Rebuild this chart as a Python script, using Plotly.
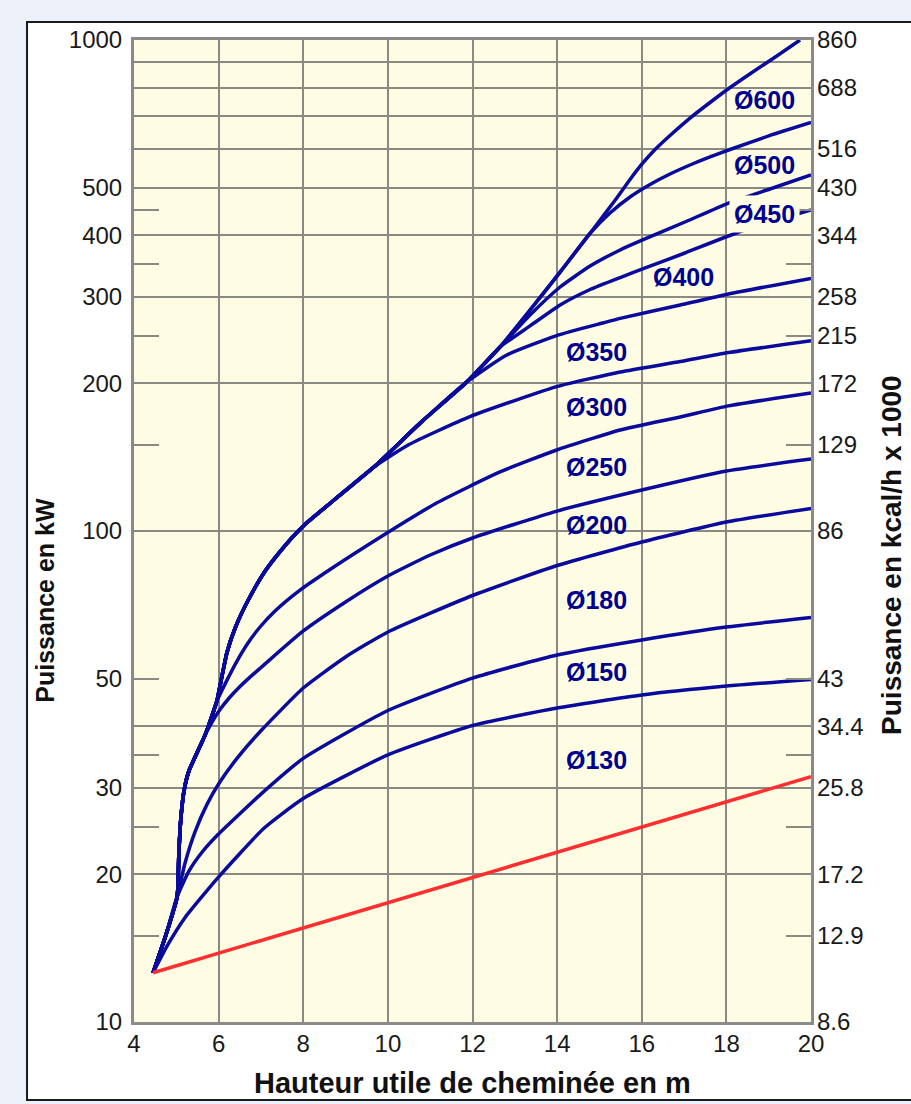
import numpy as np
import plotly.graph_objects as go

# ---------------- axes / ticks ----------------
x_ticks = [4, 6, 8, 10, 12, 14, 16, 18, 20]
kw_label_vals = [10, 20, 30, 50, 100, 200, 300, 400, 500, 1000]
kcal_pos_kw = [10, 15, 20, 30, 40, 50, 100, 150, 200, 250, 300, 400, 500, 600, 800, 1000]
kcal_labels = ['8.6', '12.9', '17.2', '25.8', '34.4', '43', '86', '129', '172', '215',
               '258', '344', '430', '516', '688', '860']
grid_kw = [10, 20, 30, 40, 100, 200, 300, 400, 500, 600, 700, 800, 900, 1000]
short_tick_kw = [15, 25, 35, 50, 150, 250, 350, 450]

# ---------------- data (height m, power kW) ----------------
x_red = [4.45, 20.0]
y_red = [12.6, 31.6]

x_130 = [4.45, 4.8, 5.2, 5.97, 7.07, 8.0, 10.0, 12.0, 14.0, 16.0, 18.0, 20.0]
y_130 = [12.6, 14.37, 16.29, 19.61, 24.80, 28.52, 34.99, 40.17, 43.61, 46.35, 48.33, 49.84]

x_150 = [4.45, 4.75, 5.02, 5.3, 5.607, 5.985, 7.0, 8.0, 10.0, 12.0, 14.0, 16.0, 18.0, 20.0]
y_150 = [12.6, 15.0, 18.0, 20.31, 22.17, 24.09, 29.12, 34.42, 43.1, 50.17, 55.9, 59.98, 63.75, 66.65]

x_180 = [4.45, 4.75, 5.02, 5.205, 5.442, 5.725, 6.033, 6.434, 7.0, 8.0, 9.0, 10.0, 12.0, 14.0,
         16.0, 18.0, 20.0]
y_180 = [12.6, 15.0, 18.0, 21.06, 24.39, 27.75, 30.85, 34.42, 39.18, 47.88, 55.39, 62.28, 73.9,
         85.07, 94.97, 104.3, 111.1]

# shared steep start (common envelope of the larger flues)
x_env0 = [4.45, 4.75, 5.02, 5.06, 5.1, 5.18, 5.3, 5.5, 5.68]
y_env0 = [12.6, 15.0, 18.0, 22.0, 25.5, 29.5, 32.5, 35.5, 38.4]

x_200 = [5.844, 6.033, 6.269, 6.505, 6.742, 7.002, 8.0, 9.0, 10.0, 11.0, 12.0, 14.0, 16.0, 18.0, 20.0]
y_200 = [40.83, 43.3, 45.91, 48.23, 50.4, 52.72, 62.57, 71.7, 80.97, 89.35, 96.76, 109.8, 121.2,
         132.5, 140.1]

x_env1 = [5.82, 5.96]
y_env1 = [41.5, 45.07]

x_250 = [6.198, 6.434, 6.694, 6.978, 7.333, 7.923, 8.632, 9.342, 11.15, 12.65, 13.99, 15.49,
         16.91, 18.05, 20.0]
y_250 = [49.7, 54.35, 59.15, 63.75, 68.72, 75.8, 83.48, 91.5, 114.0, 131.9, 146.2, 160.6,
         170.7, 179.8, 191.0]

x_env2 = [6.06, 6.2, 6.4, 6.7, 7.1, 7.5, 8.0, 8.7, 9.67]
y_env2 = [49.7, 56.7, 63.75, 72.35, 82.88, 91.9, 102.4, 115.1, 135.0]

x_300 = [10.5, 11.94, 13.99, 15.49, 16.91, 18.05, 20.0]
y_300 = [150.0, 171.0, 196.8, 210.8, 221.4, 230.9, 244.0]

x_env3 = [10.8, 11.86]
y_env3 = [167.0, 201.0]

x_350 = [12.8, 13.99, 15.1, 15.49, 16.91, 18.05, 20.0]
y_350 = [228.0, 250.0, 265.5, 271.0, 288.6, 303.9, 327.0]

x_env4 = [12.65]
y_env4 = [237.0]

x_400 = [13.36, 14.07, 14.78, 15.49, 16.02, 17.02, 18.36, 20.0]
y_400 = [261.6, 288.6, 310.4, 328.3, 341.7, 368.3, 408.3, 450.7]

x_450 = [13.36, 14.07, 14.78, 15.49, 16.02, 17.02, 18.04, 19.03, 20.0]
y_450 = [275.4, 314.0, 346.5, 373.6, 391.5, 425.9, 465.0, 497.2, 530.9]

x_env5 = [13.36, 14.07, 14.78]
y_env5 = [281.9, 336.8, 404.0]

x_500 = [15.25, 15.723, 16.196, 16.668, 17.141, 17.614, 18.086, 19.032, 20.0]
y_500 = [444.4, 478.9, 507.8, 533.4, 556.4, 577.9, 598.4, 639.1, 679.2]

x_600 = [15.392, 15.723, 16.007, 16.314, 16.668, 17.141, 17.614, 18.039, 18.606, 19.174, 19.741]
y_600 = [474.5, 519.9, 559.1, 598.4, 639.1, 693.5, 745.9, 794.7, 858.7, 925.5, 1000.0]

e01x = x_env0 + x_env1
e01y = y_env0 + y_env1
e02x = e01x + x_env2
e02y = e01y + y_env2
e03x = e02x + x_env3
e03y = e02y + y_env3
e04x = e03x + x_env4
e04y = e03y + y_env4
e05x = e04x + x_env5
e05y = e04y + y_env5

curves = [
    ('Ø130', x_130, y_130),
    ('Ø150', x_150, y_150),
    ('Ø180', x_180, y_180),
    ('Ø200', x_env0 + x_200, y_env0 + y_200),
    ('Ø250', e01x + x_250, e01y + y_250),
    ('Ø300', e02x + x_300, e02y + y_300),
    ('Ø350', e03x + x_350, e03y + y_350),
    ('Ø400', e04x + x_400, e04y + y_400),
    ('Ø450', e04x + x_450, e04y + y_450),
    ('Ø500', e05x + x_500, e05y + y_500),
    ('Ø600', e05x + x_600, e05y + y_600),
]

# curve label anchor positions (height m, kW)
label_names = ['Ø600', 'Ø500', 'Ø450', 'Ø400', 'Ø350', 'Ø300', 'Ø250', 'Ø200', 'Ø180', 'Ø150', 'Ø130']
label_x = [18.91, 18.91, 18.91, 16.98, 14.94, 14.94, 14.94, 14.94, 14.94, 14.94, 14.94]
label_y = [754.7, 556.0, 442.0, 329.0, 231.5, 178.9, 135.0, 102.8, 72.4, 51.6, 34.2]
label_boxed = ['Ø450']

BLUE = '#0a0a9c'
LABEL_BLUE = '#000090'
RED = '#ff2f2f'
PLOT_BG = '#fefde3'
GRID = '#8a8a84'
FONT = 'Liberation Sans, Arial, sans-serif'

fig = go.Figure()

for name, xs, ys in curves:
    fig.add_trace(go.Scatter(x=xs, y=ys, mode='lines', name=name,
                             line=dict(color=BLUE, width=3.5, shape='spline', smoothing=0.5),
                             showlegend=False, hoverinfo='skip'))
fig.add_trace(go.Scatter(x=x_red, y=y_red, mode='lines', line=dict(color=RED, width=3.5),
                         showlegend=False, hoverinfo='skip'))

annotations = []
for t, lx, ly in zip(label_names, label_x, label_y):
    boxed = t in label_boxed
    annotations.append(dict(x=lx, y=float(np.log10(ly)), xref='x', yref='y', text=t,
                            showarrow=False, xanchor='center', yanchor='middle',
                            font=dict(family=FONT, size=25, color=LABEL_BLUE, weight='bold'),
                            bgcolor=PLOT_BG if boxed else 'rgba(0,0,0,0)',
                            borderpad=4 if boxed else 0))

annotations += [
    dict(text='Puissance en kW', x=-0.1315, y=0.43, xref='paper', yref='paper', textangle=-90,
         showarrow=False, xanchor='center', yanchor='middle',
         font=dict(family=FONT, size=25, color='#111111', weight='bold')),
    dict(text='Puissance en kcal/h x 1000', x=1.1196, y=0.4756, xref='paper', yref='paper',
         textangle=-90, showarrow=False, xanchor='center', yanchor='middle',
         font=dict(family=FONT, size=28, color='#111111', weight='bold')),
    dict(text='Hauteur utile de cheminée en m', x=0.5, y=-0.062, xref='paper', yref='paper',
         showarrow=False, xanchor='center', yanchor='middle',
         font=dict(family=FONT, size=29, color='#111111', weight='bold')),
]

shapes = [
    dict(type='rect', xref='paper', yref='paper', x0=-0.158, x1=1.16, y0=-0.0794, y1=1.0183,
         fillcolor='white', line=dict(color='#1a1a1a', width=2), layer='below'),
    dict(type='rect', xref='paper', yref='paper', x0=0, x1=1, y0=0, y1=1,
         fillcolor=PLOT_BG, line=dict(width=0), layer='below'),
]

ylog = dict(type='log', range=[1, 3], fixedrange=True)

fig.update_layout(
    width=911, height=1104, autosize=False,
    margin=dict(l=134, r=100, t=40, b=82),
    paper_bgcolor='#ecf0f8', plot_bgcolor='rgba(0,0,0,0)',
    font=dict(family=FONT, color='#1a1a1a'),
    xaxis=dict(range=[4, 20], tickvals=x_ticks, ticktext=[str(v) for v in x_ticks],
               showgrid=True, gridcolor=GRID, gridwidth=2, zeroline=False, fixedrange=True,
               showline=True, linecolor='#8a8a8a', linewidth=3, mirror=True,
               ticks='', ticklabelstandoff=-2, tickfont=dict(size=24, color='#1a1a1a')),
    yaxis=dict(**ylog, tickvals=kw_label_vals, ticktext=[str(v) for v in kw_label_vals],
               showgrid=False, zeroline=False, showline=True, linecolor='#8a8a8a',
               linewidth=3, mirror=True, ticks='', ticklabelstandoff=4,
               tickfont=dict(size=24, color='#1a1a1a')),
    yaxis2=dict(**ylog, overlaying='y', anchor='x', side='right', tickvals=kcal_pos_kw,
                ticktext=kcal_labels, showgrid=False, zeroline=False, showline=False,
                ticks='', ticklabelstandoff=5, tickfont=dict(size=24, color='#1a1a1a')),
    yaxis3=dict(**ylog, overlaying='y', anchor='x', side='left', tickvals=grid_kw,
                showgrid=True, gridcolor=GRID, gridwidth=2, showticklabels=False,
                ticks='', zeroline=False, showline=False),
    yaxis4=dict(**ylog, overlaying='y', anchor='x', side='left', tickvals=short_tick_kw,
                showgrid=False, showticklabels=False, ticks='inside', ticklen=25,
                tickwidth=2, tickcolor=GRID, zeroline=False, showline=False),
    yaxis5=dict(**ylog, overlaying='y', anchor='x', side='right', tickvals=short_tick_kw,
                showgrid=False, showticklabels=False, ticks='inside', ticklen=25,
                tickwidth=2, tickcolor=GRID, zeroline=False, showline=False),
    annotations=annotations,
    shapes=shapes,
)

# empty traces so that the overlay axes are drawn
for ax in ['y2', 'y3', 'y4', 'y5']:
    fig.add_trace(go.Scatter(x=[None], y=[None], yaxis=ax, showlegend=False, hoverinfo='skip'))

page_fix = ("document.body.style.margin='0px';"
            "document.body.style.background='#ecf0f8';"
            "document.documentElement.style.overflow='hidden';")

fig.write_html('out.html', post_script=page_fix, config={'displayModeBar': False})
